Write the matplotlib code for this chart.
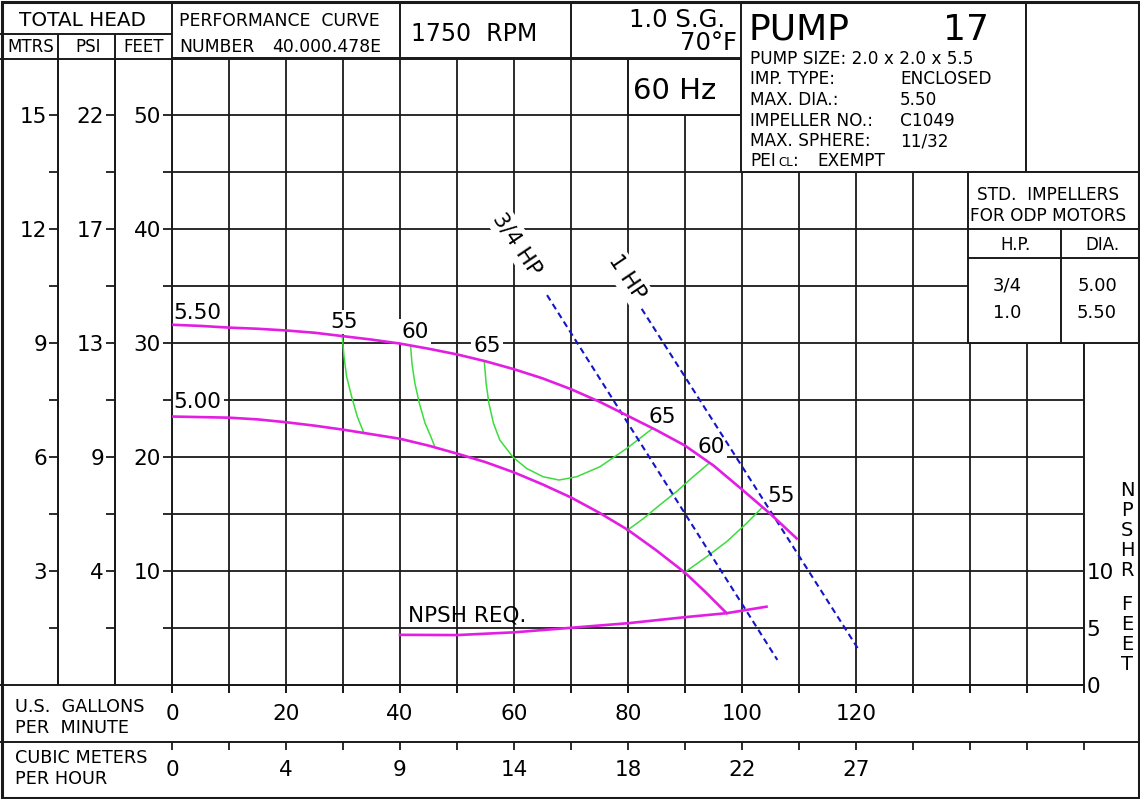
import matplotlib
matplotlib.use('Agg')
import matplotlib.pyplot as plt
from matplotlib.patches import Rectangle

# ---------------------------------------------------------------
# curve data  (flow in US gpm, head in feet)
# ---------------------------------------------------------------
gpm_550 = [0, 5, 10, 15, 20, 25, 30, 35, 40, 45, 50, 55, 60, 65, 70, 75, 80, 85, 90,
           95, 100, 105, 109.6]
head_550 = [31.6, 31.5, 31.35, 31.25, 31.1, 30.9, 30.6, 30.3, 29.95, 29.5, 29.0, 28.4,
            27.7, 26.9, 25.95, 24.85, 23.6, 22.35, 21.0, 19.25, 17.15, 15.0, 12.85]

gpm_500 = [0, 5, 10, 15, 20, 25, 30, 35, 40, 45, 50, 55, 60, 65, 70, 75, 80, 85, 90,
           93.5, 97.3]
head_500 = [23.55, 23.5, 23.45, 23.3, 23.05, 22.75, 22.4, 22.0, 21.6, 21.0, 20.3, 19.55,
            18.65, 17.6, 16.45, 15.1, 13.6, 11.8, 9.85, 8.2, 6.3]

gpm_npsh = [40, 50, 60, 70, 80, 90, 97.3, 104.3]
npsh_req = [4.4, 4.38, 4.62, 5.02, 5.42, 5.95, 6.3, 6.87]

# efficiency contours
eff55a_gpm = [29.87, 30.18, 30.64, 31.52, 32.51, 33.68]
eff55a_ft = [30.6, 28.8, 27.04, 25.29, 23.54, 22.08]
eff60a_gpm = [41.87, 42.1, 42.6, 43.4, 44.4, 45.4, 46.1]
eff60a_ft = [29.68, 28.2, 26.5, 24.7, 22.96, 21.8, 20.9]
eff65_gpm = [54.8, 55.1, 55.6, 56.4, 57.5, 59.8, 62.2, 65.1, 67.9, 71.0, 75.1, 79.8, 84.3]
eff65_ft = [28.36, 26.5, 24.7, 22.96, 21.5, 20.0, 19.0, 18.27, 17.98, 18.27, 19.15, 20.76, 22.5]
eff60b_gpm = [94.1, 91.5, 88.5, 85.6, 82.7, 79.8]
eff60b_ft = [19.4, 18.3, 16.96, 15.8, 14.6, 13.54]
eff55b_gpm = [103.5, 100.8, 97.3, 93.8, 89.7]
eff55b_ft = [15.55, 14.18, 12.57, 11.25, 9.8]

# motor limit lines
hp075_gpm = [65.8, 106.2]
hp075_ft = [34.2, 2.2]
hp100_gpm = [82.4, 120.4]
hp100_ft = [33.0, 3.15]

# labels on the curves
dia_labels = ['5.50', '5.00']
dia_pos = [(0.3, 32.6), (0.3, 24.8)]
eff_labels = ['55', '60', '65', '65', '60', '55']
eff_pos = [(30.2, 31.85), (42.6, 31.0), (55.3, 29.7), (86.0, 23.5), (94.6, 20.9), (106.8, 16.6)]
hp_labels = ['3/4 HP', '1 HP']
hp_pos = [(60.6, 38.7), (79.8, 35.8)]

# axis scales
feet_ticks = [10, 20, 30, 40, 50]
psi_labels = ['4', '9', '13', '17', '22']
mtrs_labels = ['3', '6', '9', '12', '15']
npsh_ticks = [0, 5, 10]
flow_ticks = [0, 20, 40, 60, 80, 100, 120]
cmh_labels = ['0', '4', '9', '14', '18', '22', '27']

pump_info = [('PUMP SIZE: 2.0 x 2.0 x 5.5', ''),
             ('IMP. TYPE:', 'ENCLOSED'),
             ('MAX. DIA.:', '5.50'),
             ('IMPELLER NO.:', 'C1049'),
             ('MAX. SPHERE:', '11/32')]
std_hp = ['3/4', '1.0']
std_dia = ['5.00', '5.50']

# ---------------------------------------------------------------
W, H = 1140, 799
LINE = '#1a1a1a'
MAG = '#e31ee3'
GRN = '#3ddc3d'
BLUE = '#1414c8'
plt.rcParams['font.family'] = 'DejaVu Sans'

fig = plt.figure(figsize=(W / 100, H / 100), dpi=100)


def px_axes(x0, y0, x1, y1):
    return [x0 / W, 1 - y1 / H, (x1 - x0) / W, (y1 - y0) / H]


X0, X1, Y0, Y1 = 172, 1084, 58, 685

# main chart
ax = fig.add_axes(px_axes(X0, Y0, X1, Y1))
ax.set_xlim(0, 160)
ax.set_ylim(0, 55)
ax.set_xticks(range(0, 161, 10))
ax.set_yticks(range(5, 51, 5))
ax.set_yticklabels([str(v) if v in feet_ticks else '' for v in range(5, 51, 5)])
ax.grid(True, color=LINE, lw=1.3)
ax.set_axisbelow(True)
ax.tick_params(axis='x', direction='out', length=6, width=1.3, color=LINE, labelbottom=False)
ax.tick_params(axis='y', direction='out', length=6.5, width=1.3, color=LINE, labelsize=15.5, pad=1.5)
for s in ax.spines.values():
    s.set_color(LINE)
    s.set_linewidth(1.4)

ax.plot(gpm_550, head_550, color=MAG, lw=1.9, zorder=3)
ax.plot(gpm_500, head_500, color=MAG, lw=1.9, zorder=3)
ax.plot(gpm_npsh, npsh_req, color=MAG, lw=1.9, zorder=3)
for gx, gy in [(eff55a_gpm, eff55a_ft), (eff60a_gpm, eff60a_ft), (eff65_gpm, eff65_ft),
               (eff60b_gpm, eff60b_ft), (eff55b_gpm, eff55b_ft)]:
    ax.plot(gx, gy, color=GRN, lw=1.1, zorder=2.5)
ax.plot(hp075_gpm, hp075_ft, color=BLUE, lw=1.5, ls=(0, (3, 2)), zorder=2.8)
ax.plot(hp100_gpm, hp100_ft, color=BLUE, lw=1.5, ls=(0, (3, 2)), zorder=2.8)

bb = dict(facecolor='white', edgecolor='none', pad=1.5)
for lab, (x, y) in zip(dia_labels, dia_pos):
    ax.text(x, y, lab, fontsize=15.5, ha='left', va='center', bbox=bb, zorder=1.5)
for lab, (x, y) in zip(eff_labels, eff_pos):
    ax.text(x, y, lab, fontsize=15.5, ha='center', va='center', bbox=bb, zorder=1.5)
for lab, (x, y) in zip(hp_labels, hp_pos):
    ax.text(x, y, lab, fontsize=15.5, ha='center', va='center', rotation=-56,
            rotation_mode='anchor', bbox=dict(facecolor='white', edgecolor='none', pad=3), zorder=1.5)
ax.text(41.4, 6.1, 'NPSH REQ.', fontsize=15.5, ha='left', va='center', zorder=1.5)

# NPSHR scale on the right
nax = ax.twinx()
nax.set_ylim(0, 55)
nax.set_yticks(npsh_ticks)
nax.tick_params(axis='y', length=0, labelsize=15.5, pad=2)
for s in nax.spines.values():
    s.set_visible(False)

# MTRS and PSI columns
for left, right, labs in [(58, 115, mtrs_labels), (115, 172, psi_labels)]:
    cax = fig.add_axes(px_axes(left, Y0, right, Y1))
    cax.set_ylim(0, 55)
    cax.set_xticks([])
    cax.set_yticks(range(5, 51, 5))
    cax.set_yticklabels([labs[feet_ticks.index(v)] if v in feet_ticks else '' for v in range(5, 51, 5)])
    cax.tick_params(axis='y', direction='out', length=6.5, width=1.3, color=LINE, labelsize=15.5, pad=1.5)
    cax.patch.set_visible(False)
    for k, s in cax.spines.items():
        s.set_visible(k == 'left')
    cax.spines['left'].set_color(LINE)
    cax.spines['left'].set_linewidth(1.4)

# flow rows (gpm and m3/h)
for top, bot, labs in [(685, 742, [str(v) for v in flow_ticks]), (742, 797, cmh_labels)]:
    rax = fig.add_axes(px_axes(X0, top, X1, bot))
    rax.set_xlim(0, 160)
    rax.set_yticks([])
    rax.set_xticks(range(0, 161, 10))
    rax.tick_params(axis='x', top=True, bottom=False, direction='in', length=6, width=1.3,
                    color=LINE, labelbottom=False)
    rax.patch.set_visible(False)
    for s in rax.spines.values():
        s.set_visible(False)
    for v, lab in zip(flow_ticks, labs):
        rax.text(v, 0.5, lab, fontsize=15.5, ha='center', va='center', transform=rax.get_xaxis_transform())

# ---------------------------------------------------------------
# title block / frame drawn in pixel coordinates
frame = fig.add_axes([0, 0, 1, 1], zorder=10)
frame.set_xlim(0, W)
frame.set_ylim(H, 0)
frame.axis('off')


def hline(y, x0, x1, lw=1.4):
    frame.plot([x0, x1], [y, y], color=LINE, lw=lw, solid_capstyle='butt')


def vline(x, y0, y1, lw=1.4):
    frame.plot([x, x], [y0, y1], color=LINE, lw=lw, solid_capstyle='butt')


def box(x0, y0, x1, y1):
    frame.add_patch(Rectangle((x0, y0), x1 - x0, y1 - y0, fc='white', ec=LINE, lw=1.4))


hline(34, 0, 172)
hline(59, 0, 741)
vline(58, 34, 685)
vline(115, 34, 685)
vline(172, 2, 59)
vline(400, 2, 59)
vline(571, 2, 59)
hline(685, 0, 1084)
hline(742, 0, 1139)
box(628, 59, 741, 115)
box(741, 2, 1026, 172)
box(1026, 2, 1139, 172)
box(968, 172, 1139, 343)
hline(229, 968, 1139)
hline(258, 968, 1139)
vline(1061, 229, 343)
frame.add_patch(Rectangle((1.5, 1.5), W - 3, H - 3, fc='none', ec=LINE, lw=2.2))

frame.text(82, 21, 'TOTAL HEAD', fontsize=14.4, ha='center', va='center')
frame.text(30.5, 47, 'MTRS', fontsize=12, ha='center', va='center')
frame.text(88.5, 47, 'PSI', fontsize=12, ha='center', va='center')
frame.text(143.5, 47, 'FEET', fontsize=12, ha='center', va='center')
frame.text(179, 20.5, 'PERFORMANCE  CURVE', fontsize=12.4, ha='left', va='center')
frame.text(179, 47, 'NUMBER', fontsize=12.4, ha='left', va='center')
frame.text(272, 47, '40.000.478E', fontsize=12.4, ha='left', va='center')
frame.text(411, 34, '1750  RPM', fontsize=17, ha='left', va='center')
frame.text(725, 20, '1.0 S.G.', fontsize=17.5, ha='right', va='center')
frame.text(737, 43, '70°F', fontsize=17.5, ha='right', va='center')
frame.text(633, 91, '60 Hz', fontsize=21, ha='left', va='center')

frame.text(748, 30, 'PUMP', fontsize=26, ha='left', va='center')
frame.text(989, 30, '17', fontsize=26, ha='right', va='center')
for i, (k, v) in enumerate(pump_info):
    y = 59 + i * 20.5
    frame.text(750, y, k, fontsize=12.2, ha='left', va='center')
    frame.text(900, y, v, fontsize=12.2, ha='left', va='center')
frame.text(750, 166.5, 'PEI', fontsize=12.2, ha='left', va='baseline')
frame.text(778, 166.5, 'CL', fontsize=8.5, ha='left', va='baseline')
frame.text(793, 166.5, ':', fontsize=12.2, ha='left', va='baseline')
frame.text(817, 166.5, 'EXEMPT', fontsize=12.2, ha='left', va='baseline')

frame.text(1048, 195, 'STD.  IMPELLERS', fontsize=12.2, ha='center', va='center')
frame.text(1048, 216, 'FOR ODP MOTORS', fontsize=12.2, ha='center', va='center')
frame.text(1016, 245, 'H.P.', fontsize=12, ha='center', va='center')
frame.text(1102, 245, 'DIA.', fontsize=12, ha='center', va='center')
for i in range(len(std_hp)):
    frame.text(1007, 286 + i * 27, std_hp[i], fontsize=13, ha='center', va='center')
    frame.text(1097, 286 + i * 27, std_dia[i], fontsize=13, ha='center', va='center')

for i, ch in enumerate('NPSHR'):
    frame.text(1127, 490 + i * 20, ch, fontsize=14, ha='center', va='center')
for i, ch in enumerate('FEET'):
    frame.text(1127, 604 + i * 20, ch, fontsize=14, ha='center', va='center')

frame.text(15, 707, 'U.S.  GALLONS', fontsize=12.7, ha='left', va='center')
frame.text(15, 728, 'PER  MINUTE', fontsize=12.7, ha='left', va='center')
frame.text(15, 758, 'CUBIC METERS', fontsize=12.7, ha='left', va='center')
frame.text(15, 779, 'PER HOUR', fontsize=12.7, ha='left', va='center')

fig.savefig('out.png', dpi=100)
